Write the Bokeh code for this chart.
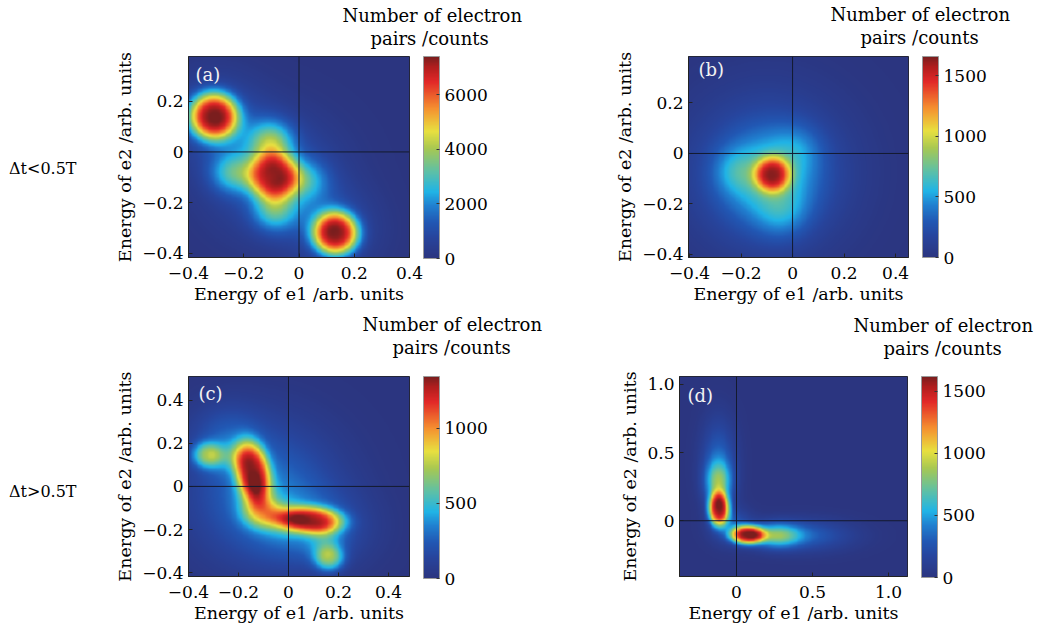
import numpy as np
from bokeh.plotting import figure
from bokeh.models import (LinearColorMapper, ColorBar, FixedTicker, Span, Label, Title,
                          LinearAxis, CustomJSTickFormatter)
from bokeh.layouts import column, row
from bokeh.embed import file_html
from bokeh.resources import INLINE

FONT = "DejaVu Serif"

# ---------------- texts ----------------
ROW_LABELS = ["Δt<0.5T", "Δt>0.5T"]
PANEL_TAGS = ["(a)", "(b)", "(c)", "(d)"]
X_LABEL = "Energy of e1 /arb. units"
Y_LABEL = "Energy of e2 /arb. units"
CB_TITLE = ["Number of electron", "pairs /counts"]

# ---------------- axes (ranges and ticks) ----------------
A_XR = [-0.4, 0.4];     A_YR = [-0.416, 0.376]
B_XR = [-0.404, 0.45];  B_YR = [-0.412, 0.384]
C_XR = [-0.4, 0.484];   C_YR = [-0.418, 0.51]
D_XR = [-0.375, 1.125]; D_YR = [-0.409, 1.058]

A_XTICKS = [-0.4, -0.2, 0, 0.2, 0.4]; A_YTICKS = [-0.4, -0.2, 0, 0.2]
B_XTICKS = [-0.4, -0.2, 0, 0.2, 0.4]; B_YTICKS = [-0.4, -0.2, 0, 0.2]
C_XTICKS = [-0.4, -0.2, 0, 0.2, 0.4]; C_YTICKS = [-0.4, -0.2, 0, 0.2, 0.4]
D_XTICKS = [0, 0.5, 1.0];             D_YTICKS = [0, 0.5, 1.0]

# colour-bar ranges and ticks (counts)
A_CB = [0, 7400]; A_CBTICKS = [0, 2000, 4000, 6000]
B_CB = [0, 1660]; B_CBTICKS = [0, 500, 1000, 1500]
C_CB = [0, 1345]; C_CBTICKS = [0, 500, 1000]
D_CB = [0, 1620]; D_CBTICKS = [0, 500, 1000, 1500]

# ---------------- density peaks read from the maps ----------------
# centre x, centre y, width x, width y, height (counts), tilt (rad), flatness exponent
A_CX  = [-0.31, 0.133, -0.093, -0.10, -0.235, -0.09, 0.015, -0.31, -0.093, 0.13, -0.20, 0.05]
A_CY  = [0.142, -0.322, -0.095, 0.035, -0.085, -0.225, -0.11, 0.14, -0.095, -0.31, 0.05, -0.22]
A_SX  = [0.072, 0.067, 0.072, 0.055, 0.06, 0.055, 0.06, 0.12, 0.16, 0.11, 0.08, 0.08]
A_SY  = [0.075, 0.070, 0.072, 0.06, 0.055, 0.06, 0.055, 0.12, 0.16, 0.11, 0.08, 0.08]
A_AMP = [6200, 6200, 4800, 3000, 2300, 2500, 1900, 1000, 1300, 900, 350, 350]
A_TH  = [0, 0, 0, 0, 0, 0, 0, 0, 0, 0, 0, 0]
A_P   = [3, 3, 3, 2, 2, 2, 2, 2, 2, 2, 2, 2]

B_CX  = [-0.078, -0.09, -0.10, -0.22, -0.04, 0.02]
B_CY  = [-0.083, -0.10, -0.07, -0.07, -0.24, 0.02]
B_SX  = [0.056, 0.13, 0.22, 0.06, 0.07, 0.07]
B_SY  = [0.056, 0.13, 0.22, 0.06, 0.07, 0.07]
B_AMP = [900, 420, 280, 200, 200, 150]
B_TH  = [0, 0, 0, 0, 0, 0]
B_P   = [3, 2, 2, 2, 2, 2]

C_CX  = [-0.145, 0.095, -0.11, -0.13, -0.02, -0.328, 0.164, -0.24, 0.15, -0.10, 0.10, -0.25]
C_CY  = [0.075, -0.157, -0.125, -0.04, -0.15, 0.147, -0.336, 0.14, -0.25, -0.03, -0.20, 0.25]
C_SX  = [0.055, 0.10, 0.06, 0.05, 0.06, 0.045, 0.045, 0.07, 0.05, 0.20, 0.15, 0.10]
C_SY  = [0.11, 0.05, 0.055, 0.06, 0.05, 0.045, 0.045, 0.05, 0.07, 0.22, 0.12, 0.10]
C_AMP = [930, 840, 400, 350, 350, 440, 460, 250, 250, 330, 200, 150]
C_TH  = [0.15, -0.05, 0, 0, 0, 0, 0, 0, 0, 0, 0, 0]
C_P   = [3, 3, 2.5, 2, 2, 2.5, 2.5, 2, 2, 2, 2, 2]

D_CX  = [-0.118, 0.072, -0.12, 0.26, -0.12, 0.45, -0.04]
D_CY  = [0.085, -0.105, 0.28, -0.11, 0.45, -0.11, -0.04]
D_SX  = [0.055, 0.09, 0.06, 0.11, 0.08, 0.22, 0.09]
D_SY  = [0.10, 0.055, 0.11, 0.06, 0.22, 0.08, 0.09]
D_AMP = [1320, 1320, 650, 650, 300, 300, 300]
D_TH  = [0, 0, 0, 0, 0, 0, 0]
D_P   = [3, 3, 2, 2, 2, 2, 2]

# ---------------- colour map (jet-like, as printed) ----------------
STOPS = [(0.00, "#2b3580"), (0.10, "#27449c"), (0.18, "#2158b4"), (0.26, "#2080d0"),
         (0.33, "#20b4e6"), (0.43, "#5ec0a6"), (0.545, "#a8c852"), (0.63, "#e8e040"),
         (0.744, "#f59030"), (0.876, "#e22828"), (0.95, "#b01e1e"), (1.00, "#7a1e1e")]


def make_palette(stops, n=256):
    fr = np.array([s[0] for s in stops])
    rgb = np.array([[int(s[1][i:i + 2], 16) for i in (1, 3, 5)] for s in stops], float)
    out = []
    for v in np.linspace(0, 1, n):
        r, g, b = (np.interp(v, fr, rgb[:, k]) for k in range(3))
        out.append("#%02x%02x%02x" % (int(round(r)), int(round(g)), int(round(b))))
    return out


PALETTE = make_palette(STOPS)


def density(xr, yr, cx, cy, sx, sy, amp, th, pw, n=260):
    xs = np.linspace(xr[0], xr[1], n)
    ys = np.linspace(yr[0], yr[1], n)
    X, Y = np.meshgrid(xs, ys)
    Z = np.zeros_like(X)
    for x0, y0, a, b, h, t, q in zip(cx, cy, sx, sy, amp, th, pw):
        dx, dy = X - x0, Y - y0
        u = dx * np.cos(t) + dy * np.sin(t)
        v = -dx * np.sin(t) + dy * np.cos(t)
        r2 = (u / a) ** 2 + (v / b) ** 2
        Z += h * np.exp(-0.5 * r2 ** (q / 2.0))
    return Z


fmt = CustomJSTickFormatter(code="""
if (Math.abs(tick) < 1e-9) return "0";
const s = Math.abs(tick).toFixed(1);
return tick < 0 ? "\\u2212" + s : s;
""")


def panel(spec):
    p = figure(width=spec["w"], height=spec["h"], x_range=tuple(spec["xr"]), y_range=tuple(spec["yr"]),
               output_backend="svg", toolbar_location=None,
               min_border_left=spec["bl"], min_border_right=spec["br"],
               min_border_top=spec["bt"], min_border_bottom=spec["bb"])
    p.background_fill_color = "#2b3580"
    p.border_fill_color = "white"
    p.outline_line_color = "#222222"
    p.grid.visible = False
    cm = LinearColorMapper(palette=PALETTE, low=spec["cb"][0], high=spec["cb"][1])
    Z = density(spec["xr"], spec["yr"], *spec["blobs"])
    p.image(image=[Z], x=spec["xr"][0], y=spec["yr"][0], dw=spec["xr"][1] - spec["xr"][0],
            dh=spec["yr"][1] - spec["yr"][0], color_mapper=cm)
    p.add_layout(Span(location=0, dimension="height", line_color="#141a2e", line_width=1))
    p.add_layout(Span(location=0, dimension="width", line_color="#141a2e", line_width=1))

    for ax, ticks in ((p.xaxis, spec["xt"]), (p.yaxis, spec["yt"])):
        ax.ticker = FixedTicker(ticks=ticks)
        ax.formatter = fmt
        ax.major_label_text_font = FONT
        ax.major_label_text_font_size = "17px"
        ax.major_label_text_color = "black"
        ax.axis_label_text_font = FONT
        ax.axis_label_text_font_size = "17.5px"
        ax.axis_label_text_font_style = "normal"
        ax.axis_label_text_color = "black"
        ax.axis_line_color = "#222222"
        ax.major_tick_in = 4
        ax.major_tick_out = 0
        ax.major_tick_line_color = "#222222"
        ax.minor_tick_line_color = None
    p.xaxis.axis_label = X_LABEL
    p.yaxis.axis_label = Y_LABEL
    p.xaxis.major_label_standoff = 9
    p.xaxis.axis_label_standoff = 2
    p.yaxis.major_label_standoff = 5
    p.yaxis.axis_label_standoff = 4

    # row label on the far left, as an extra unlined axis
    if spec.get("row"):
        ry, rt = spec["row"]
        ra = LinearAxis(ticker=FixedTicker(ticks=[ry]),
                        formatter=CustomJSTickFormatter(code='return "%s";' % rt),
                        axis_line_color=None, major_tick_line_color=None,
                        minor_tick_line_color=None, major_label_standoff=30,
                        major_label_text_font=FONT, major_label_text_font_size="16px",
                        major_label_text_color="black")
        p.add_layout(ra, "left")

    # colour-bar title: spacer + two lines above the frame (first added = nearest)
    p.add_layout(Title(text=" ", text_font_size="1px", standoff=spec["spacer"] - 2), "above")
    o1, o2 = spec["toff"]
    for txt, off in ((CB_TITLE[1], o2), (CB_TITLE[0], o1)):
        p.add_layout(Title(text=txt, align="left", offset=off, text_font=FONT,
                           text_font_size="18px", text_font_style="normal",
                           text_color="black", standoff=0), "above")

    # gap between frame and colour bar
    p.add_layout(Title(text=" ", text_font_size="1px", standoff=11), "right")
    cb = ColorBar(color_mapper=cm, ticker=FixedTicker(ticks=spec["cbt"]), width=16,
                  height=spec["fh"], padding=0, margin=0, location="top_left",
                  major_label_text_font=FONT, major_label_text_font_size="17px",
                  major_label_text_color="black", label_standoff=5,
                  bar_line_color="#9a9a9a", major_tick_line_color="#333333",
                  major_tick_in=3, major_tick_out=0, minor_tick_line_color=None,
                  background_fill_alpha=0, border_line_color=None)
    p.add_layout(cb, "right")

    gx, gy = spec["tag_pos"]
    p.add_layout(Label(x=gx, y=gy, x_units="screen", y_units="screen", text=spec["tag"],
                       text_align="left", text_baseline="middle", text_font=FONT,
                       text_font_size="18px", text_color="#f2f2f2"))
    return p


pa = panel(dict(w=540, h=310, bl=188, br=131, bt=55, bb=53, fh=202,
                xr=A_XR, yr=A_YR, xt=A_XTICKS, yt=A_YTICKS, cb=A_CB, cbt=A_CBTICKS,
                blobs=(A_CX, A_CY, A_SX, A_SY, A_AMP, A_TH, A_P),
                spacer=7, toff=(154, 182), tag=PANEL_TAGS[0], tag_pos=(7, 183),
                row=(-0.065, ROW_LABELS[0])))
pb = panel(dict(w=500, h=310, bl=148, br=132, bt=56, bb=53, fh=201,
                xr=B_XR, yr=B_YR, xt=B_XTICKS, yt=B_YTICKS, cb=B_CB, cbt=B_CBTICKS,
                blobs=(B_CX, B_CY, B_SX, B_SY, B_AMP, B_TH, B_P),
                spacer=8, toff=(142, 172), tag=PANEL_TAGS[1], tag_pos=(10, 188)))
pc = panel(dict(w=548, h=321, bl=188, br=139, bt=66, bb=53, fh=202,
                xr=C_XR, yr=C_YR, xt=C_XTICKS, yt=C_YTICKS, cb=C_CB, cbt=C_CBTICKS,
                blobs=(C_CX, C_CY, C_SX, C_SY, C_AMP, C_TH, C_P),
                spacer=18, toff=(174, 204), tag=PANEL_TAGS[2], tag_pos=(10, 183),
                row=(-0.023, ROW_LABELS[1])))
pd_ = panel(dict(w=492, h=321, bl=131, br=133, bt=65, bb=55, fh=201,
                 xr=D_XR, yr=D_YR, xt=D_XTICKS, yt=D_YTICKS, cb=D_CB, cbt=D_CBTICKS,
                 blobs=(D_CX, D_CY, D_SX, D_SY, D_AMP, D_TH, D_P),
                 spacer=17, toff=(174, 204), tag=PANEL_TAGS[3], tag_pos=(8, 181)))

layout = column(row(pa, pb), row(pc, pd_))
open("out.html", "w").write(file_html(layout, INLINE))
